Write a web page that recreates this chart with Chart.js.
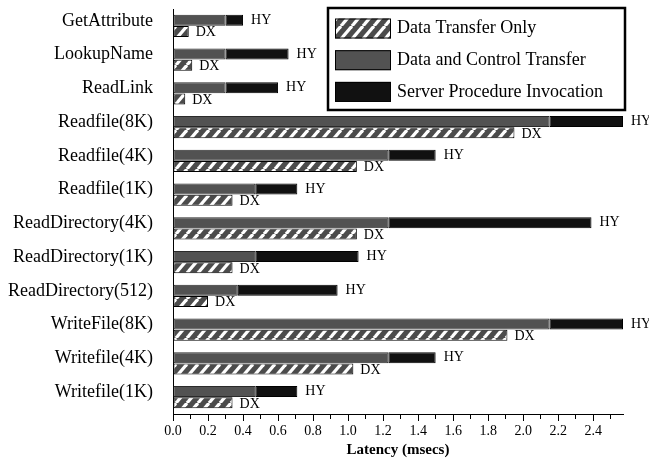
<!DOCTYPE html>
<html>
<head>
<meta charset="utf-8">
<script src="https://cdn.jsdelivr.net/npm/chart.js@4.4.0/dist/chart.umd.min.js"></script>
<style>
  body { margin: 0; background: #fff; }
  canvas { display: block; }
</style>
</head>
<body>
<canvas id="myChart" width="649" height="459"></canvas>
<script>
// operations (y axis)
var categories = ['GetAttribute', 'LookupName', 'ReadLink', 'Readfile(8K)', 'Readfile(4K)', 'Readfile(1K)',
	'ReadDirectory(4K)', 'ReadDirectory(1K)', 'ReadDirectory(512)', 'WriteFile(8K)', 'Writefile(4K)', 'Writefile(1K)'];

// DX bar
var dataTransferOnly = [0.09, 0.11, 0.07, 1.95, 1.05, 0.34, 1.05, 0.34, 0.20, 1.91, 1.03, 0.34];
// HY bar, first segment (gray)
var dataControlTransfer = [0.30, 0.30, 0.30, 2.15, 1.23, 0.47, 1.23, 0.47, 0.37, 2.15, 1.23, 0.47];
// HY bar, second segment (black)
var serverInvocation = [0.10, 0.36, 0.30, 0.42, 0.27, 0.24, 1.16, 0.59, 0.57, 0.42, 0.27, 0.24];

var xTicks = [0.0, 0.1, 0.2, 0.3, 0.4, 0.5, 0.6, 0.7, 0.8, 0.9, 1.0, 1.1, 1.2, 1.3,
	1.4, 1.5, 1.6, 1.7, 1.8, 1.9, 2.0, 2.1, 2.2, 2.3, 2.4, 2.5];
var xTickLabels = ['0.0', '', '0.2', '', '0.4', '', '0.6', '', '0.8', '', '1.0', '', '1.2', '',
	'1.4', '', '1.6', '', '1.8', '', '2.0', '', '2.2', '', '2.4', ''];
var xMax = 2.57;

var FONT = "'Liberation Serif', 'Times New Roman', serif";

// hatch for "Data Transfer Only"
function makeHatch() {
	var c = document.createElement('canvas');
	c.width = 11; c.height = 13;
	var g = c.getContext('2d');
	g.fillStyle = '#4b4b4b';
	g.fillRect(0, 0, 11, 13);
	g.strokeStyle = '#ffffff';
	g.lineWidth = 3.2;
	[-11, 0, 11].forEach(function (dx) {
		g.beginPath();
		g.moveTo(dx, 13);
		g.lineTo(dx + 11, 0);
		g.stroke();
	});
	return g.createPattern(c, 'repeat');
}
var hatch = makeHatch();

// HY / DX text at the bar ends
var barTags = {
	id: 'barTags',
	afterDatasetsDraw: function (chart) {
		var ctx = chart.ctx;
		ctx.save();
		ctx.font = '14px ' + FONT;
		ctx.fillStyle = '#000';
		ctx.textBaseline = 'middle';
		ctx.textAlign = 'left';
		chart.getDatasetMeta(1).data.forEach(function (el) {
			ctx.fillText('HY', el.x + 8, el.y);
		});
		chart.getDatasetMeta(2).data.forEach(function (el) {
			ctx.fillText('DX', el.x + 7, el.y + 1);
		});
		ctx.restore();
	}
};

// boxed legend in the top right corner
var boxLegend = {
	id: 'boxLegend',
	afterDraw: function (chart) {
		var ctx = chart.ctx;
		var order = [2, 0, 1];
		ctx.save();
		ctx.fillStyle = '#fff';
		ctx.fillRect(328, 8, 297, 102);
		ctx.lineWidth = 2.5;
		ctx.strokeStyle = '#000';
		ctx.strokeRect(328, 8, 297, 102);
		ctx.font = '18px ' + FONT;
		ctx.textBaseline = 'middle';
		order.forEach(function (di, k) {
			var ds = chart.data.datasets[di];
			var y = 18.5 + k * 31.7;
			ctx.fillStyle = ds.backgroundColor;
			ctx.fillRect(335, y, 56, 20);
			ctx.lineWidth = 1;
			ctx.strokeStyle = '#000';
			ctx.strokeRect(335.5, y + 0.5, 55, 19);
			ctx.fillStyle = '#000';
			ctx.fillText(ds.label, 397, y + 10);
		});
		ctx.restore();
	}
};

var ctx = document.getElementById('myChart').getContext('2d');
var myChart = new Chart(ctx, {
	type: 'bar',
	data: {
		labels: categories,
		datasets: [{
			label: 'Data and Control Transfer',
			data: dataControlTransfer,
			stack: 'HY',
			backgroundColor: '#525252',
			borderColor: '#2a2a2a',
			borderWidth: 1,
			borderSkipped: false
		}, {
			label: 'Server Procedure Invocation',
			data: serverInvocation,
			stack: 'HY',
			backgroundColor: '#111111',
			borderColor: '#000',
			borderWidth: 1,
			borderSkipped: false
		}, {
			label: 'Data Transfer Only',
			data: dataTransferOnly,
			stack: 'DX',
			backgroundColor: hatch,
			borderColor: '#000',
			borderWidth: 1,
			borderSkipped: false
		}]
	},
	options: {
		indexAxis: 'y',
		responsive: false,
		animation: false,
		devicePixelRatio: 1,
		categoryPercentage: 0.68,
		barPercentage: 0.96,
		layout: { padding: { top: 9, right: 26, left: 0, bottom: 0 } },
		scales: {
			x: {
				stacked: true,
				min: 0,
				max: xMax,
				afterBuildTicks: function (axis) {
					axis.ticks = xTicks.map(function (v) { return { value: v }; });
				},
				afterFit: function (axis) { axis.height = 45; },
				grid: {
					drawOnChartArea: false,
					tickLength: 7,
					tickColor: '#000',
					tickBorderDash: function (c) {
						return c.index % 2 === 0 ? [] : [4, 20];
					}
				},
				border: { color: '#000', width: 1 },
				ticks: {
					color: '#000',
					font: { family: FONT, size: 14 },
					padding: 2,
					maxRotation: 0,
					autoSkip: false,
					callback: function (value, index) { return xTickLabels[index]; }
				},
				title: {
					display: true,
					text: 'Latency (msecs)',
					color: '#000',
					font: { family: FONT, size: 15, weight: 'bold' },
					padding: { top: 0, bottom: 0 }
				}
			},
			y: {
				stacked: true,
				afterFit: function (axis) {
					axis.width = 173;
					axis.paddingTop = 0;
					axis.paddingBottom = 0;
				},
				grid: { display: false },
				border: { color: '#000', width: 1 },
				ticks: {
					color: '#000',
					font: { family: FONT, size: 18 },
					padding: 12,
					labelOffset: -5,
					autoSkip: false
				}
			}
		},
		plugins: {
			legend: { display: false },
			tooltip: { enabled: false }
		}
	},
	plugins: [barTags, boxLegend]
});
</script>
</body>
</html>
